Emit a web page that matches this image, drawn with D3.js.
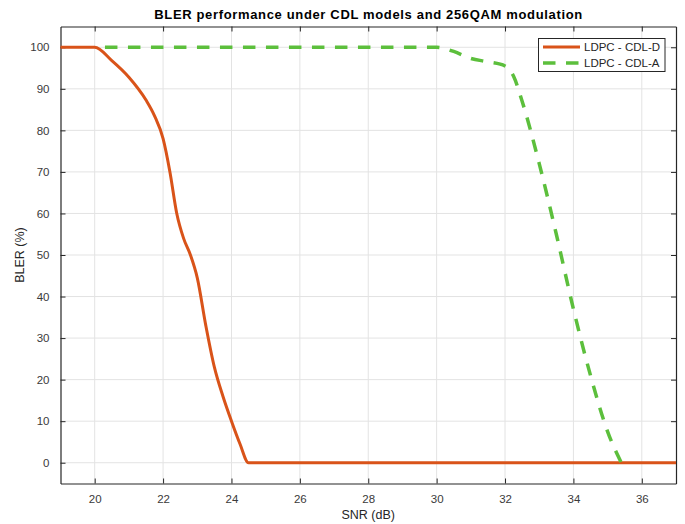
<!DOCTYPE html>
<html><head><meta charset="utf-8">
<script src="https://cdn.jsdelivr.net/npm/d3@7"></script>
<style>body{margin:0;background:#fff;} text{font-family:"Liberation Sans",Arial,sans-serif;}</style>
</head><body><svg id="c" width="685" height="524"></svg>
<script>
const title = "BLER performance under CDL models and 256QAM modulation";
const xLabel = "SNR (dB)";
const yLabel = "BLER (%)";
const xTicks = [20,22,24,26,28,30,32,34,36];
const yTicks = [0,10,20,30,40,50,60,70,80,90,100];
const seriesNames = ["LDPC - CDL-D","LDPC - CDL-A"];
const cdlD_snr  = [19,20,20.5,21,21.5,21.75,22,22.2,22.4,22.6,22.8,23,23.25,23.5,23.75,24,24.25,24.5,25,26,28,30,32,34,36,37];
const cdlD_bler = [100,100,96.8,92.8,87.3,83.5,78,70,60,54,50,44.5,33,23,16,10,4.5,0,0,0,0,0,0,0,0,0];
const cdlA_snr  = [20.3,25,30,30.5,31,31.5,32,32.25,32.5,33,33.5,34,34.5,35,35.4];
const cdlA_bler = [100,100,100,99,97.3,96.5,95.5,93,87,72,55,37,21,7.5,0];

const svg = d3.select("#c");
const L=60.5, R=676, T=26.5, B=483.5;
const x = d3.scaleLinear().domain([19,37]).range([L,R]);
const y = d3.scaleLinear().domain([-5,105]).range([B,T]);
const axCol="#262626", gridCol="#e3e3e3";

// grid
svg.append("g").selectAll("line.gx").data(xTicks).join("line")
  .attr("x1",d=>x(d)).attr("x2",d=>x(d)).attr("y1",T).attr("y2",B)
  .attr("stroke",gridCol).attr("stroke-width",1);
svg.append("g").selectAll("line.gy").data(yTicks).join("line")
  .attr("y1",d=>y(d)).attr("y2",d=>y(d)).attr("x1",L).attr("x2",R)
  .attr("stroke",gridCol).attr("stroke-width",1);

// axes (ticks inward)
const tickLen = 5;
const gB = svg.append("g").attr("transform",`translate(0,${B})`)
  .call(d3.axisBottom(x).tickValues(xTicks).tickSizeInner(-tickLen).tickSizeOuter(0).tickPadding(11));
const gT = svg.append("g").attr("transform",`translate(0,${T})`)
  .call(d3.axisTop(x).tickValues(xTicks).tickSizeInner(-tickLen).tickSizeOuter(0).tickFormat(""));
const gL = svg.append("g").attr("transform",`translate(${L},0)`)
  .call(d3.axisLeft(y).tickValues(yTicks).tickSizeInner(-tickLen).tickSizeOuter(0).tickPadding(11));
const gR = svg.append("g").attr("transform",`translate(${R},0)`)
  .call(d3.axisRight(y).tickValues(yTicks).tickSizeInner(-tickLen).tickSizeOuter(0).tickFormat(""));
[gB,gT,gL,gR].forEach(g=>{
  g.selectAll("path.domain").attr("stroke",axCol).attr("stroke-width",1.2);
  g.selectAll(".tick line").attr("stroke",axCol);
  g.selectAll(".tick text").attr("fill","#3a3a3a").attr("font-size","11.5px")
   .attr("font-family","'Liberation Sans',Arial,sans-serif");
});

// lines
const line = d3.line().x(d=>x(d[0])).y(d=>y(d[1])).curve(d3.curveMonotoneX);
const dataD = cdlD_snr.map((s,i)=>[s,cdlD_bler[i]]);
const dataA = cdlA_snr.map((s,i)=>[s,cdlA_bler[i]]);
const colD="#D95319", colA="#5CBF3C";
svg.append("path").datum(dataD).attr("d",line).attr("fill","none")
  .attr("stroke",colD).attr("stroke-width",3);
svg.append("path").datum(dataA).attr("d",line).attr("fill","none")
  .attr("stroke",colA).attr("stroke-width",3.5).attr("stroke-dasharray","12.5,10.5");

// title & labels
svg.append("text").attr("x",(L+R)/2).attr("y",18.5).attr("text-anchor","middle")
  .attr("font-size","13px").attr("font-weight","bold").attr("fill","#000")
  .attr("textLength",428).attr("lengthAdjust","spacing").text(title);
svg.append("text").attr("x",(L+R)/2).attr("y",519).attr("text-anchor","middle")
  .attr("font-size","12.5px").attr("fill","#262626").text(xLabel);
svg.append("text").attr("transform",`translate(24,${(T+B)/2}) rotate(-90)`).attr("text-anchor","middle")
  .attr("font-size","12.5px").attr("fill","#262626").text(yLabel);

// legend
const lg = svg.append("g");
lg.append("rect").attr("x",538.5).attr("y",38.5).attr("width",126.5).attr("height",33)
  .attr("fill","#fff").attr("stroke",axCol).attr("stroke-width",1);
const cols=[colD,colA], dashes=[null,"12.5,10.5"], widths=[3,3.5];
seriesNames.forEach((n,i)=>{
  const yy = 47 + i*16;
  lg.append("line").attr("x1",543).attr("x2",580).attr("y1",yy).attr("y2",yy)
    .attr("stroke",cols[i]).attr("stroke-width",widths[i]).attr("stroke-dasharray",dashes[i]);
  lg.append("text").attr("x",584).attr("y",yy+4).attr("font-size","11.5px").attr("fill","#262626").text(n);
});
</script></body></html>
